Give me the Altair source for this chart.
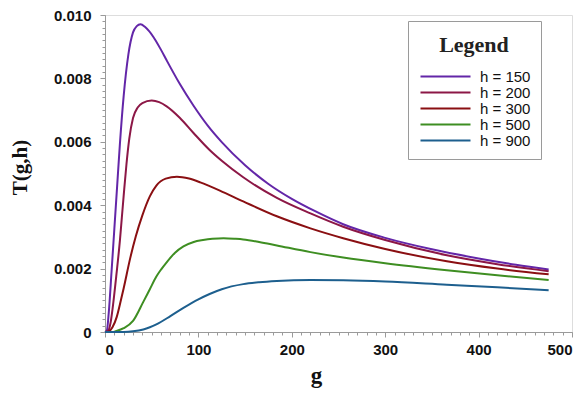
import altair as alt
import pandas as pd

# ---- data (T values in units of 1e-3) ----
labels = ["h = 150", "h = 200", "h = 300", "h = 500", "h = 900"]
colors = ["#6326A8", "#8C1746", "#8A0F12", "#3E8E22", "#1D5F8E"]

g150 = [0, 2, 4, 7, 10, 13, 16, 20, 25, 30, 34, 38, 43, 52, 60, 66, 80, 95, 110, 125, 150, 175, 200, 225, 255, 300, 350, 400, 440, 475]
t150 = [0, 0.05, 0.6, 1.9, 3.25, 4.6, 5.95, 7.45, 8.75, 9.45, 9.65, 9.71, 9.62, 9.3, 8.9, 8.57, 7.83, 7.13, 6.51, 5.99, 5.26, 4.67, 4.2, 3.81, 3.4, 2.97, 2.61, 2.32, 2.12, 1.97]

g200 = [0, 3, 6, 9, 12, 16, 18, 20, 23, 26, 30, 35, 40, 50, 58, 66, 80, 95, 112, 125, 148, 184, 220, 255, 300, 366, 420, 475]
t200 = [0, 0.02, 0.3, 0.95, 1.75, 2.9, 3.6, 4.3, 5.3, 6.1, 6.75, 7.08, 7.22, 7.3, 7.25, 7.12, 6.76, 6.27, 5.74, 5.4, 4.88, 4.23, 3.74, 3.32, 2.9, 2.42, 2.14, 1.92]

g300 = [0, 4, 8, 12.5, 17, 20, 27, 33, 40, 48, 55, 65, 77, 90, 102, 112, 123, 148, 184, 220, 255, 300, 366, 420, 475]
t300 = [0, 0.02, 0.15, 0.47, 1.0, 1.38, 2.33, 3.02, 3.68, 4.28, 4.62, 4.84, 4.9, 4.84, 4.72, 4.6, 4.46, 4.12, 3.65, 3.27, 2.96, 2.62, 2.23, 2.0, 1.82]

g500 = [0, 8, 12, 20, 30, 41, 48, 55, 60, 66, 75, 84, 95, 105, 115, 127, 140, 148, 165, 184, 220, 255, 300, 366, 420, 475]
t500 = [0, 0.0, 0.03, 0.12, 0.35, 0.95, 1.35, 1.75, 1.97, 2.2, 2.5, 2.7, 2.84, 2.9, 2.94, 2.96, 2.94, 2.92, 2.84, 2.73, 2.52, 2.35, 2.17, 1.95, 1.79, 1.64]

g900 = [0, 20, 30, 41, 48, 55, 70, 84, 100, 112, 125, 148, 165, 184, 220, 255, 300, 366, 420, 475]
t900 = [0, 0.0, 0.02, 0.08, 0.15, 0.24, 0.5, 0.76, 1.03, 1.2, 1.35, 1.51, 1.57, 1.61, 1.64, 1.63, 1.59, 1.49, 1.41, 1.32]

x_major = [0, 100, 200, 300, 400, 500]
y_major = [0, 0.002, 0.004, 0.006, 0.008, 0.010]
x_minor = [i * 10 for i in range(51)]
y_minor = [round(i * 0.0002, 4) for i in range(51)]

series = [(labels[0], g150, t150), (labels[1], g200, t200), (labels[2], g300, t300),
          (labels[3], g500, t500), (labels[4], g900, t900)]
rows = []
for lab, gs, ts in series:
    for i, (g, t) in enumerate(zip(gs, ts)):
        rows.append({"g": g, "T": t * 1e-3, "h": lab, "i": i})
df = pd.DataFrame(rows)

GRAY = "#9a9a9a"
xscale = alt.Scale(domain=[0, 500], nice=False, zero=False)
yscale = alt.Scale(domain=[0, 0.010], nice=False, zero=False)

lines = alt.Chart(df).mark_line(strokeWidth=2, interpolate="monotone").encode(
    x=alt.X("g:Q", scale=xscale, axis=alt.Axis(
        orient="bottom", values=x_major, grid=False, tickSize=5, tickColor=GRAY,
        domainColor=GRAY, labelFont="Liberation Sans", labelFontWeight="bold",
        labelFontSize=15, labelColor="#111", labelPadding=5,
        title="g", titleFont="Liberation Serif", titleFontWeight="bold",
        titleFontSize=23, titleColor="#111", titleX=211, titleY=50,
        titleBaseline="alphabetic", titleAlign="center")),
    y=alt.Y("T:Q", scale=yscale, axis=alt.Axis(
        orient="left", values=y_major, grid=False, tickSize=5, tickColor=GRAY,
        domainColor=GRAY, labelFont="Liberation Sans", labelFontWeight="bold",
        labelFontSize=15, labelColor="#111", labelPadding=9,
        labelExpr="datum.value == 0 ? '0' : format(datum.value, '.3f')",
        title="T(g,h)", titleFont="Liberation Serif", titleFontWeight="bold",
        titleFontSize=21, titleColor="#111", titleAngle=270, titleX=-85,
        titleY=152, titleAlign="center", titleBaseline="middle")),
    color=alt.Color("h:N", sort=labels,
                    scale=alt.Scale(domain=labels, range=colors),
                    legend=alt.Legend(
                        orient="none", legendX=303, legendY=6, title="Legend",
                        titleFont="Liberation Serif", titleFontWeight="bold",
                        titleFontSize=22, titleColor="#222", titleAnchor="middle",
                        titleBaseline="line-top", titleLineHeight=30,
                        titlePadding=16, padding=10, strokeColor=GRAY,
                        fillColor="white", symbolType="M-1,0H9", symbolSize=100,
                        symbolStrokeWidth=2, labelFont="Liberation Sans",
                        labelFontSize=15, labelColor="#111", labelOffset=47,
                        rowPadding=-2,
                        labelExpr="datum.label + '          '")),
    order="i:Q",
)

minor = alt.Chart(df).mark_line(opacity=0).encode(
    x=alt.X("g:Q", scale=xscale, axis=alt.Axis(
        orient="bottom", values=x_minor, grid=False, tickSize=3, tickColor=GRAY,
        domain=False, labels=False, title=None)),
    y=alt.Y("T:Q", scale=yscale, axis=alt.Axis(
        orient="left", values=y_minor, grid=False, tickSize=3, tickColor=GRAY,
        domain=False, labels=False, title=None)),
    detail="h:N",
    order="i:Q",
)

chart = alt.layer(minor, lines).resolve_axis(x="independent", y="independent").properties(
    width=467, height=317,
    autosize=alt.AutoSizeParams(type="none"),
    padding={"left": 97, "top": 7, "right": 5, "bottom": 60},
).configure_view(stroke=GRAY, strokeWidth=1).configure(background="white")

chart.save("out.html", embed_options={"renderer": "svg", "actions": False})
